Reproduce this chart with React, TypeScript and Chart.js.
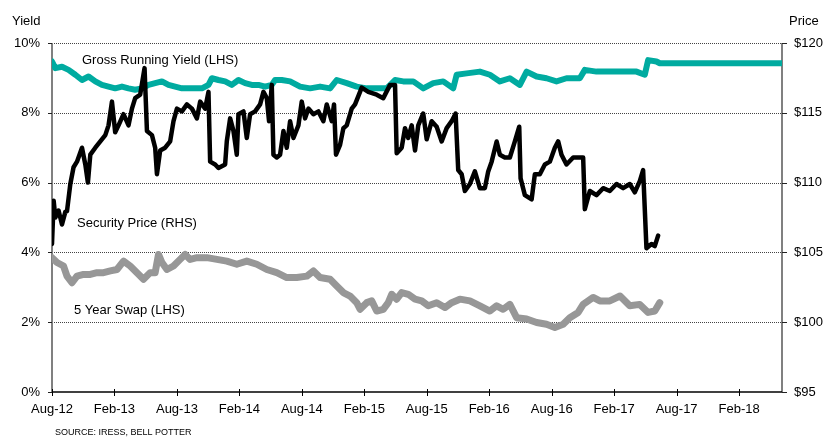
import React, { useEffect, useRef } from "react";
import { Chart, registerables } from "chart.js";

Chart.register(...registerables);

// x values are months since Aug-12
const xTickLabels = ["Aug-12", "Feb-13", "Aug-13", "Feb-14", "Aug-14", "Feb-15", "Aug-15", "Feb-16", "Aug-16", "Feb-17", "Aug-17", "Feb-18"];
const xMax = 70.12;

const yieldTicks = [0, 2, 4, 6, 8, 10];
const priceTicks = [95, 100, 105, 110, 115, 120];

const priceMonths = [0, 0.16, 0.32, 0.63, 0.96, 1.28, 1.44, 1.76, 2.07, 2.4, 2.88, 3.2, 3.45, 3.68, 4.16, 4.64, 5.12, 5.43, 5.76, 6.07, 6.39, 6.87, 7.35, 7.68, 7.99, 8.47, 8.89, 9.12, 9.6, 9.91, 10.08, 10.39, 10.87, 11.35, 11.67, 12.0, 12.48, 12.96, 13.44, 13.92, 14.23, 14.71, 15.03, 15.19, 15.67, 15.99, 16.63, 16.79, 17.11, 17.43, 17.75, 17.91, 18.39, 18.71, 19.03, 19.51, 19.99, 20.31, 20.63, 20.85, 21.11, 21.27, 21.59, 21.91, 22.23, 22.55, 22.87, 23.19, 23.67, 23.99, 24.31, 24.63, 25.11, 25.59, 26.07, 26.39, 26.87, 27.09, 27.28, 27.67, 27.99, 28.31, 28.79, 29.11, 29.75, 30.38, 31.19, 31.82, 32.47, 32.95, 33.11, 33.59, 33.91, 34.22, 34.55, 34.87, 35.18, 35.66, 35.99, 36.47, 36.95, 37.43, 37.91, 38.39, 38.77, 39.02, 39.35, 39.66, 40.14, 40.62, 41.1, 41.58, 41.9, 42.23, 42.71, 43.02, 43.5, 43.98, 44.46, 44.88, 45.01, 45.42, 46.07, 46.38, 46.86, 47.34, 47.82, 48.3, 48.62, 48.94, 49.42, 50.06, 51.02, 51.18, 51.66, 52.3, 52.94, 53.58, 54.22, 54.86, 55.5, 55.98, 56.46, 56.78, 57.1, 57.58, 57.9, 58.22];
const priceValues = [105.6, 108.7, 107.5, 108.0, 107.0, 107.9, 107.95, 109.9, 111.1, 111.5, 112.5, 111.3, 110.0, 112.0, 112.5, 112.95, 113.4, 114.1, 115.8, 113.6, 114.1, 114.9, 114.1, 115.3, 116.05, 116.3, 118.2, 113.7, 113.4, 112.5, 110.6, 112.3, 112.5, 112.95, 114.4, 115.3, 115.1, 115.6, 115.3, 114.6, 115.8, 115.3, 116.5, 111.5, 111.3, 111.05, 111.3, 112.95, 114.6, 113.7, 112.0, 114.9, 115.1, 113.2, 114.9, 115.1, 115.6, 116.5, 116.05, 114.4, 117.0, 112.0, 111.8, 112.0, 113.7, 112.5, 114.4, 113.2, 114.1, 115.8, 114.6, 115.3, 114.9, 115.1, 114.4, 115.6, 114.4, 115.6, 112.0, 112.7, 113.9, 114.1, 115.3, 115.6, 116.8, 116.5, 116.3, 116.05, 117.0, 117.0, 112.1, 112.5, 113.9, 113.2, 114.1, 112.3, 114.1, 114.95, 113.1, 114.4, 114.0, 112.95, 113.9, 114.4, 114.95, 110.9, 110.6, 109.4, 109.9, 110.8, 109.6, 109.6, 110.8, 111.5, 112.95, 112.0, 111.8, 111.8, 112.95, 114.0, 110.3, 109.1, 108.8, 110.6, 110.6, 111.3, 111.5, 112.5, 112.95, 112.0, 111.3, 111.8, 111.8, 108.1, 109.4, 109.1, 109.6, 109.4, 109.9, 109.6, 109.9, 109.3, 110.1, 110.9, 105.3, 105.6, 105.45, 106.2];

const yieldMonths = [0, 0.32, 0.96, 1.59, 2.24, 2.88, 3.51, 4.16, 4.8, 5.43, 6.07, 6.72, 7.35, 7.99, 8.64, 9.27, 9.91, 10.56, 11.19, 11.83, 12.48, 13.11, 13.75, 14.4, 15.03, 15.36, 15.99, 16.63, 17.27, 17.91, 18.55, 19.19, 19.83, 20.47, 21.11, 21.43, 22.07, 22.87, 23.83, 24.79, 25.75, 26.71, 27.35, 28.31, 29.27, 30.23, 31.19, 32.15, 32.95, 33.74, 34.7, 35.66, 36.62, 37.58, 38.54, 38.87, 39.83, 41.1, 42.06, 43.02, 43.98, 44.94, 45.59, 46.55, 47.5, 48.46, 49.42, 50.7, 51.18, 52.3, 53.58, 54.86, 56.14, 56.94, 57.26, 58.06, 58.38, 70.12];
const yieldValues = [9.47, 9.28, 9.32, 9.23, 9.09, 8.94, 9.04, 8.9, 8.8, 8.75, 8.7, 8.75, 8.7, 8.66, 8.7, 8.8, 8.85, 8.9, 8.8, 8.75, 8.7, 8.7, 8.7, 8.7, 8.8, 8.99, 8.94, 8.9, 8.8, 8.94, 8.85, 8.8, 8.8, 8.75, 8.8, 8.94, 8.94, 8.9, 8.75, 8.7, 8.75, 8.7, 8.94, 8.85, 8.75, 8.7, 8.7, 8.7, 8.94, 8.9, 8.9, 8.7, 8.85, 8.9, 8.7, 9.09, 9.13, 9.18, 9.09, 8.9, 8.99, 8.8, 9.18, 9.04, 8.99, 8.9, 8.99, 8.99, 9.23, 9.18, 9.18, 9.18, 9.18, 9.09, 9.51, 9.47, 9.42, 9.42];

const swapMonths = [0, 0.48, 1.11, 1.44, 1.92, 2.4, 3.03, 3.68, 4.32, 4.95, 5.6, 6.24, 6.87, 7.51, 8.16, 8.79, 9.43, 9.91, 10.23, 10.56, 11.04, 11.67, 12.31, 12.79, 13.27, 13.92, 14.88, 15.84, 16.79, 17.75, 18.71, 19.67, 20.63, 21.59, 22.55, 23.51, 24.47, 25.11, 25.75, 26.71, 27.35, 27.98, 28.63, 29.27, 29.59, 30.23, 30.71, 31.19, 31.82, 32.3, 32.63, 33.11, 33.59, 34.22, 34.87, 35.51, 36.14, 36.95, 37.74, 38.39, 39.18, 40.14, 41.1, 42.06, 42.71, 43.34, 43.98, 44.63, 45.59, 46.55, 47.5, 48.3, 49.1, 49.74, 50.54, 51.02, 51.98, 52.62, 53.58, 54.56, 55.5, 56.46, 57.26, 57.9, 58.38];
const swapValues = [3.85, 3.71, 3.61, 3.32, 3.13, 3.32, 3.37, 3.37, 3.42, 3.42, 3.47, 3.51, 3.75, 3.61, 3.42, 3.23, 3.42, 3.42, 3.94, 3.71, 3.51, 3.61, 3.8, 3.94, 3.8, 3.85, 3.85, 3.8, 3.75, 3.66, 3.75, 3.66, 3.51, 3.42, 3.28, 3.28, 3.32, 3.47, 3.28, 3.23, 3.04, 2.85, 2.75, 2.56, 2.37, 2.56, 2.61, 2.32, 2.37, 2.56, 2.8, 2.66, 2.85, 2.8, 2.66, 2.61, 2.47, 2.56, 2.42, 2.56, 2.66, 2.61, 2.47, 2.32, 2.47, 2.37, 2.51, 2.13, 2.09, 1.99, 1.94, 1.85, 1.94, 2.13, 2.28, 2.51, 2.71, 2.61, 2.61, 2.75, 2.47, 2.51, 2.28, 2.32, 2.56];

const FONT = "'Liberation Sans', Arial, Helvetica, sans-serif";

const toPoints = (xs: number[], ys: number[]) => xs.map((x, i) => ({ x, y: ys[i] }));

const decorPlugin = {
  id: "decor",
  beforeDatasetsDraw(chart: any) {
    const { ctx, chartArea } = chart;
    const { left, right, top, bottom } = chartArea;
    const ys = chart.scales.y;
    const xs = chart.scales.x;
    ctx.save();
    ctx.strokeStyle = "#444";
    ctx.lineWidth = 1;
    ctx.setLineDash([1, 1]);
    yieldTicks.forEach((v) => {
      if (v === 0) return;
      const y = Math.round(ys.getPixelForValue(v)) + 0.5;
      ctx.beginPath();
      ctx.moveTo(left, y);
      ctx.lineTo(right, y);
      ctx.stroke();
    });
    ctx.setLineDash([]);
    ctx.strokeStyle = "#808080";
    ctx.lineWidth = 2;
    ctx.beginPath();
    ctx.moveTo(left, top);
    ctx.lineTo(left, bottom);
    ctx.moveTo(right, top);
    ctx.lineTo(right, bottom);
    ctx.stroke();
    ctx.strokeStyle = "#222";
    ctx.lineWidth = 1;
    yieldTicks.forEach((v) => {
      const y = Math.round(ys.getPixelForValue(v)) + 0.5;
      ctx.beginPath();
      ctx.moveTo(left - 4, y);
      ctx.lineTo(left, y);
      ctx.moveTo(right, y);
      ctx.lineTo(right + 5, y);
      ctx.stroke();
    });
    ctx.strokeStyle = "#000";
    ctx.lineWidth = 1.5;
    ctx.beginPath();
    ctx.moveTo(left, bottom);
    ctx.lineTo(right, bottom);
    ctx.stroke();
    ctx.lineWidth = 1;
    xTickLabels.forEach((_, i) => {
      const x = Math.round(xs.getPixelForValue(i * 6)) + 0.5;
      ctx.beginPath();
      ctx.moveTo(x, bottom - 3);
      ctx.lineTo(x, bottom + 4);
      ctx.stroke();
    });
    ctx.restore();
  },
  afterDraw(chart: any) {
    const { ctx } = chart;
    ctx.save();
    ctx.fillStyle = "#000";
    ctx.textBaseline = "middle";
    ctx.textAlign = "left";
    ctx.font = `13px ${FONT}`;
    ctx.fillText("Yield", 12, 21);
    ctx.fillText("Price", 789, 21);
    ctx.fillText("Gross Running Yield (LHS)", 82, 60);
    ctx.fillText("Security Price (RHS)", 77, 223);
    ctx.fillText("5 Year Swap (LHS)", 74, 310);
    ctx.font = `9px ${FONT}`;
    ctx.fillText("SOURCE: IRESS, BELL POTTER", 55, 433);
    ctx.restore();
  },
};

export default function App() {
  const canvasRef = useRef<HTMLCanvasElement | null>(null);

  useEffect(() => {
    if (!canvasRef.current) return;
    const chart = new Chart(canvasRef.current, {
      type: "line",
      data: {
        datasets: [
          {
            label: "Security Price (RHS)",
            data: toPoints(priceMonths, priceValues),
            yAxisID: "y1",
            borderColor: "#000000",
            borderWidth: 4.5,
            pointRadius: 0,
            tension: 0,
            borderJoinStyle: "round",
            borderCapStyle: "round",
          },
          {
            label: "Gross Running Yield (LHS)",
            data: toPoints(yieldMonths, yieldValues),
            yAxisID: "y",
            borderColor: "#00ABA0",
            borderWidth: 6,
            pointRadius: 0,
            tension: 0,
            borderJoinStyle: "round",
            borderCapStyle: "round",
          },
          {
            label: "5 Year Swap (LHS)",
            data: toPoints(swapMonths, swapValues),
            yAxisID: "y",
            borderColor: "#979797",
            borderWidth: 7,
            pointRadius: 0,
            tension: 0,
            borderJoinStyle: "round",
            borderCapStyle: "round",
          },
        ],
      },
      options: {
        responsive: false,
        animation: false,
        devicePixelRatio: 1,
        layout: { padding: { top: 43, left: 0, right: 0, bottom: 0 } },
        plugins: {
          legend: { display: false },
          tooltip: { enabled: false },
        },
        scales: {
          x: {
            type: "linear",
            position: "bottom",
            min: 0,
            max: xMax,
            grid: { display: false, drawTicks: false },
            border: { display: false },
            afterBuildTicks: (s: any) => {
              s.ticks = xTickLabels.map((_, i) => ({ value: i * 6 }));
            },
            afterFit: (s: any) => {
              s.height = 45;
            },
            ticks: {
              autoSkip: false,
              maxRotation: 0,
              minRotation: 0,
              padding: 10,
              color: "#000",
              font: { family: FONT, size: 13 },
              callback: (v: any) => xTickLabels[Math.round(Number(v) / 6)] ?? "",
            },
          },
          y: {
            type: "linear",
            position: "left",
            min: 0,
            max: 10,
            grid: { display: false, drawTicks: false },
            border: { display: false },
            afterBuildTicks: (s: any) => {
              s.ticks = yieldTicks.map((v) => ({ value: v }));
            },
            afterFit: (s: any) => {
              s.width = 52;
            },
            ticks: {
              padding: 12,
              color: "#000",
              font: { family: FONT, size: 13 },
              callback: (v: any) => `${v}%`,
            },
          },
          y1: {
            type: "linear",
            position: "right",
            min: 95,
            max: 120,
            grid: { display: false, drawTicks: false },
            border: { display: false },
            afterBuildTicks: (s: any) => {
              s.ticks = priceTicks.map((v) => ({ value: v }));
            },
            afterFit: (s: any) => {
              s.width = 45;
            },
            ticks: {
              padding: 12,
              color: "#000",
              font: { family: FONT, size: 13 },
              callback: (v: any) => `$${v}`,
            },
          },
        },
      },
      plugins: [decorPlugin],
    } as any);
    return () => chart.destroy();
  }, []);

  return (
    <div style={{ position: "absolute", left: 0, top: 0, width: 827, height: 437, background: "#fff" }}>
      <canvas ref={canvasRef} width={827} height={437} style={{ display: "block" }} />
    </div>
  );
}
